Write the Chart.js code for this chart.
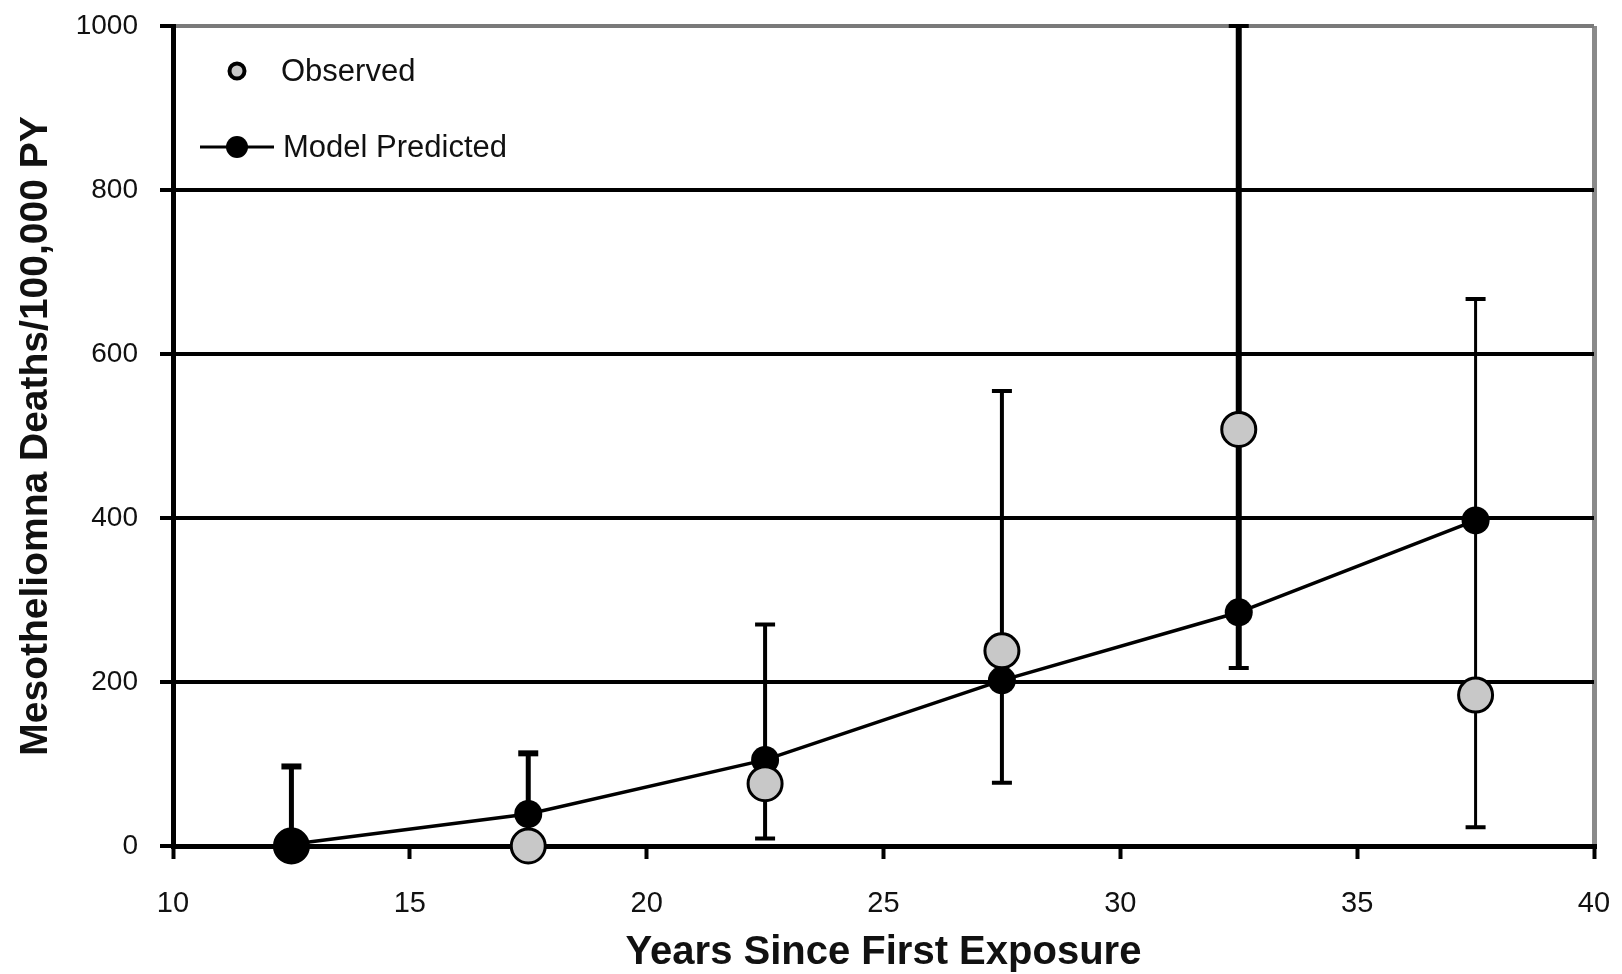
<!DOCTYPE html>
<html>
<head>
<meta charset="utf-8">
<title>Mesothelioma deaths by years since first exposure</title>
<script src="https://cdn.jsdelivr.net/npm/chart.js@4.4.1/dist/chart.umd.min.js"></script>
<style>
  html, body { margin: 0; padding: 0; background: #fff; }
  #wrap { width: 1622px; height: 974px; }
</style>
</head>
<body>
<div id="wrap"><canvas id="c" width="1622" height="974"></canvas></div>
<script>
// Years since first exposure (interval midpoints)
const years = [12.5, 17.5, 22.5, 27.5, 32.5, 37.5];
// Observed rates per 100,000 person-years
const observed = [0, 0, 76, 238, 508, 184];
// Lower / upper confidence limits of the observed rates
const observedLow = [0, 0, 9, 77, 217, 23];
const observedHigh = [97, 113, 270, 555, 1000, 667];
// Model predicted rates
const predicted = [2, 39, 105, 202, 285, 397];
// Axis ticks
const xTicks = [10, 15, 20, 25, 30, 35, 40];
const yTicks = [0, 200, 400, 600, 800, 1000];

const BASE_FONT = '"Liberation Sans", Arial, Helvetica, sans-serif';

// Fixed axis band sizes; tick-label overhang is handled by the layout padding
const fixBand = (prop, size) => s => {
  s[prop] = size;
  s.paddingTop = 0; s.paddingBottom = 0; s.paddingLeft = 0; s.paddingRight = 0;
};

// Vertical interval bars with caps for the observed series
const errorBars = {
  id: 'errorBars',
  beforeDatasetsDraw(chart, args, opts) {
    const { ctx } = chart;
    const xs = chart.scales.x, ys = chart.scales.y;
    ctx.save();
    ctx.strokeStyle = '#000';
    ctx.lineCap = 'butt';
    years.forEach((yr, i) => {
      const px = xs.getPixelForValue(yr);
      const top = ys.getPixelForValue(observedHigh[i]);
      const bot = ys.getPixelForValue(observedLow[i]);
      ctx.lineWidth = opts.widths[i];
      ctx.beginPath();
      ctx.moveTo(px, top);
      ctx.lineTo(px, bot);
      ctx.stroke();
      ctx.lineWidth = opts.capWidths[i];
      const half = opts.capHalf;
      ctx.beginPath();
      ctx.moveTo(px - half, top);
      ctx.lineTo(px + half, top);
      if (observedLow[i] > 0) {
        ctx.moveTo(px - half, bot);
        ctx.lineTo(px + half, bot);
      }
      ctx.stroke();
    });
    ctx.restore();
  }
};

// Two-row key in the upper-left corner of the plot
const insetKey = {
  id: 'insetKey',
  afterDraw(chart) {
    const { ctx } = chart;
    ctx.save();
    ctx.font = '31px ' + BASE_FONT;
    ctx.textBaseline = 'middle';
    ctx.textAlign = 'left';

    // Observed
    ctx.beginPath();
    ctx.arc(237, 71, 7.5, 0, Math.PI * 2);
    ctx.fillStyle = '#c8c8c8';
    ctx.fill();
    ctx.lineWidth = 4;
    ctx.strokeStyle = '#000';
    ctx.stroke();
    ctx.fillStyle = '#111';
    ctx.fillText(chart.data.datasets[0].label, 281, 72);

    // Model Predicted
    ctx.beginPath();
    ctx.moveTo(200, 147);
    ctx.lineTo(274, 147);
    ctx.lineWidth = 3;
    ctx.strokeStyle = '#000';
    ctx.stroke();
    ctx.beginPath();
    ctx.arc(237, 147, 11, 0, Math.PI * 2);
    ctx.fillStyle = '#000';
    ctx.fill();
    ctx.fillStyle = '#111';
    ctx.fillText(chart.data.datasets[1].label, 283, 148);
    ctx.restore();
  }
};

new Chart(document.getElementById('c'), {
  type: 'scatter',
  data: {
    datasets: [
      {
        label: 'Observed',
        data: years.map((x, i) => ({ x, y: observed[i] })),
        showLine: false,
        clip: false,
        pointRadius: 17,
        pointHoverRadius: 17,
        pointBorderWidth: 3,
        pointBorderColor: '#000',
        pointBackgroundColor: ['#000', '#c8c8c8', '#c8c8c8', '#c8c8c8', '#c8c8c8', '#c8c8c8'],
        order: 1
      },
      {
        label: 'Model Predicted',
        data: years.map((x, i) => ({ x, y: predicted[i] })),
        showLine: true,
        clip: false,
        borderColor: '#000',
        borderWidth: 3.5,
        pointRadius: 14,
        pointHoverRadius: 14,
        pointBorderWidth: 0,
        pointBackgroundColor: '#000',
        tension: 0,
        order: 2
      }
    ]
  },
  options: {
    responsive: false,
    animation: false,
    devicePixelRatio: 1,
    layout: { padding: { top: 26, right: 28, left: 0, bottom: 0 } },
    plugins: {
      legend: { display: false },
      tooltip: { enabled: false },
      errorBars: { widths: [5, 5, 4, 4, 6, 3], capWidths: [6, 6, 4, 4, 4, 4], capHalf: 10 }
    },
    scales: {
      x: {
        type: 'linear',
        min: xTicks[0],
        max: xTicks[xTicks.length - 1],
        afterBuildTicks: s => { s.ticks = xTicks.map(v => ({ value: v })); },
        afterFit: fixBand('height', 128),
        border: { display: true, color: '#000', width: 5 },
        grid: {
          drawOnChartArea: true,
          drawTicks: true,
          tickLength: 13,
          tickWidth: 4,
          tickColor: '#000',
          lineWidth: 5,
          color: c => (c.tick && c.tick.value === 40 ? '#8a8a8a' : 'rgba(0,0,0,0)')
        },
        ticks: {
          color: '#111',
          padding: 28,
          font: { family: BASE_FONT, size: 29 },
          maxRotation: 0,
          callback: v => String(v)
        },
        title: {
          display: true,
          text: 'Years Since First Exposure',
          color: '#111',
          font: { family: BASE_FONT, size: 40, weight: 'bold', lineHeight: 1 },
          padding: { top: 0, bottom: 1 }
        }
      },
      y: {
        type: 'linear',
        min: yTicks[0],
        max: yTicks[yTicks.length - 1],
        afterBuildTicks: s => { s.ticks = yTicks.map(v => ({ value: v })); },
        afterFit: fixBand('width', 173),
        border: { display: true, color: '#000', width: 5 },
        grid: {
          drawOnChartArea: true,
          drawTicks: true,
          tickLength: 13,
          tickWidth: 4,
          tickColor: '#000',
          lineWidth: 4,
          color: c => (c.tick && c.tick.value === 1000 ? '#7a7a7a' : '#000')
        },
        ticks: {
          color: '#111',
          padding: 22,
          font: { family: BASE_FONT, size: 28 },
          callback: v => String(v)
        },
        title: {
          display: true,
          text: 'Mesotheliomna Deaths/100,000 PY',
          color: '#111',
          font: { family: BASE_FONT, size: 39, weight: 'bold', lineHeight: 1 },
          padding: { top: 17, bottom: 0 }
        }
      }
    }
  },
  plugins: [errorBars, insetKey]
});
</script>
</body>
</html>
